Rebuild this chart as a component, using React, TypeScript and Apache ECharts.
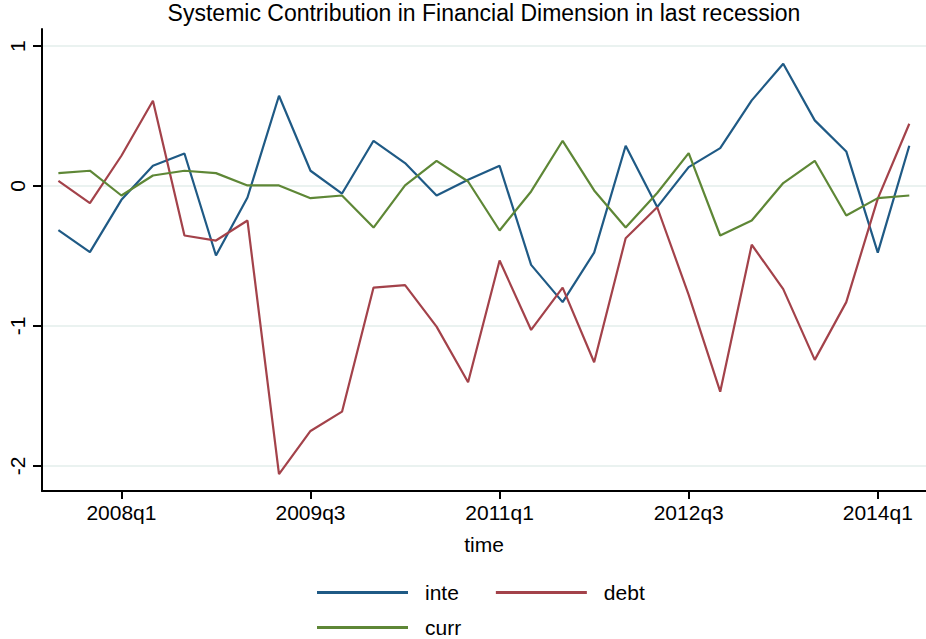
import React, { useEffect, useRef } from "react";
import * as echarts from "echarts";

const quarters = [
  "2007q3", "2007q4", "2008q1", "2008q2", "2008q3", "2008q4", "2009q1", "2009q2",
  "2009q3", "2009q4", "2010q1", "2010q2", "2010q3", "2010q4", "2011q1", "2011q2",
  "2011q3", "2011q4", "2012q1", "2012q2", "2012q3", "2012q4", "2013q1", "2013q2",
  "2013q3", "2013q4", "2014q1", "2014q2",
];

const inte = [
  -0.315, -0.473, -0.099, 0.144, 0.232, -0.497, -0.082, 0.645,
  0.109, -0.054, 0.323, 0.164, -0.068, 0.044, 0.144, -0.564,
  -0.83, -0.476, 0.288, -0.151, 0.135, 0.271, 0.612, 0.874,
  0.469, 0.247, -0.476, 0.288,
];

const debt = [
  0.037, -0.122, 0.216, 0.609, -0.354, -0.39, -0.247, -2.06,
  -1.751, -1.613, -0.726, -0.709, -1.005, -1.403, -0.533, -1.029,
  -0.726, -1.26, -0.373, -0.152, -0.778, -1.47, -0.42, -0.737,
  -1.243, -0.83, -0.09, 0.445,
];

const curr = [
  0.092, 0.109, -0.068, 0.075, 0.109, 0.092, 0.004, 0.004,
  -0.087, -0.068, -0.297, 0.004, 0.18, 0.032, -0.318, -0.039,
  0.323, -0.032, -0.297, -0.05, 0.235, -0.354, -0.247, 0.021,
  0.18, -0.211, -0.087, -0.068,
];

const xTickLabels = ["2008q1", "2009q3", "2011q1", "2012q3", "2014q1"];
const yTickValues = [-2, -1, 0, 1];

const FONT = "Liberation Sans, Arial, Helvetica, sans-serif";

export default function App() {
  const ref = useRef<HTMLDivElement>(null);

  useEffect(() => {
    if (!ref.current) return;
    const chart = echarts.init(ref.current, null, { renderer: "svg" });
    const xTickPos = xTickLabels.map((l) => quarters.indexOf(l));
    const toPairs = (arr: number[]) => quarters.map((_, i) => [i, arr[i]]);

    const seriesDefs = [
      { name: "inte", data: inte, color: "#1f5a85" },
      { name: "debt", data: debt, color: "#a3424a" },
      { name: "curr", data: curr, color: "#5e8736" },
    ];

    const legendText = { fontSize: 21, fontFamily: FONT, color: "#000", padding: [0, 0, 0, 12] };

    chart.setOption({
      animation: false,
      backgroundColor: "#ffffff",
      graphic: [
        {
          type: "text",
          x: 484,
          y: 1,
          style: {
            text: "Systemic Contribution in Financial Dimension in last recession",
            textAlign: "center",
            fontSize: 23,
            fontFamily: FONT,
            fill: "#000",
          },
        },
      ],
      grid: { left: 42, right: 0, top: 29, bottom: 148, containLabel: false },
      xAxis: {
        type: "value",
        min: -0.52,
        max: 27.53,
        name: "time",
        nameLocation: "middle",
        nameGap: 43,
        nameTextStyle: { fontSize: 21, fontFamily: FONT, color: "#000" },
        axisLine: { show: true, onZero: false, lineStyle: { color: "#000", width: 2 } },
        axisTick: { show: true, length: 8, customValues: xTickPos, lineStyle: { color: "#000", width: 2 } },
        axisLabel: {
          customValues: xTickPos,
          formatter: (v: number) => quarters[Math.round(v)] ?? "",
          fontSize: 21,
          fontFamily: FONT,
          color: "#000",
          margin: 11,
        },
        splitLine: { show: false },
      },
      yAxis: {
        type: "value",
        min: -2.18,
        max: 1.122,
        axisLine: { show: true, onZero: false, lineStyle: { color: "#000", width: 2 } },
        axisTick: { show: true, length: 9, customValues: yTickValues, lineStyle: { color: "#000", width: 2 } },
        axisLabel: {
          customValues: yTickValues,
          rotate: 90,
          fontSize: 21,
          fontFamily: FONT,
          color: "#000",
          margin: 14,
        },
        splitLine: { show: true, lineStyle: { color: "#eaf2f0", width: 2 } },
      },
      legend: [
        {
          data: ["inte", "debt"],
          left: 312,
          top: 577,
          icon: "rect",
          itemWidth: 91,
          itemHeight: 3,
          itemGap: 37,
          textStyle: legendText,
        },
        {
          data: ["curr"],
          left: 312,
          top: 612,
          icon: "rect",
          itemWidth: 91,
          itemHeight: 3,
          itemGap: 37,
          textStyle: legendText,
        },
      ],
      series: seriesDefs.map((s) => ({
        name: s.name,
        type: "line",
        data: toPairs(s.data),
        showSymbol: false,
        symbol: "none",
        color: s.color,
        lineStyle: { color: s.color, width: 2.2 },
      })),
    });

    return () => chart.dispose();
  }, []);

  return (
    <div
      ref={ref}
      style={{ position: "fixed", left: 0, top: 0, width: 926, height: 639 }}
    />
  );
}
